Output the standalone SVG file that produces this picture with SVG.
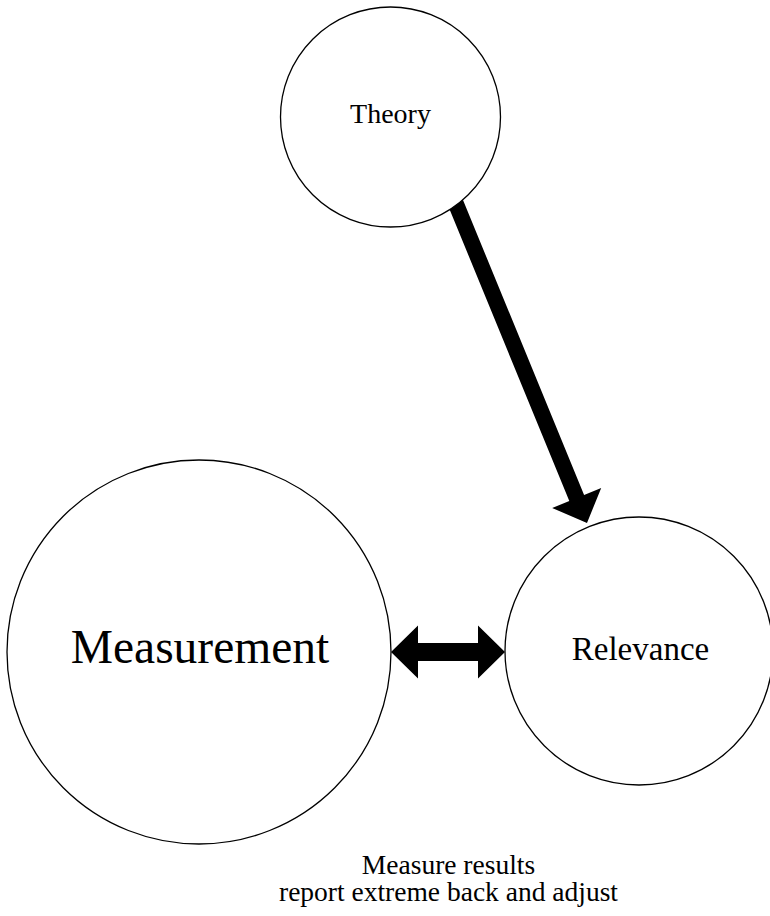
<svg xmlns="http://www.w3.org/2000/svg" width="770" height="916" viewBox="0 0 770 916">
<style>
.node{fill:#fff;stroke:#000;stroke-width:1.3}
.lbl{font-family:"Liberation Serif","Times New Roman",serif;fill:#000;text-anchor:middle}
.arrow{fill:#000;stroke:none}
</style>
<rect width="770" height="916" fill="#fff"/>
<g id="connectors">
<polygon class="arrow" points="447.4,162 432.6,168 569.3,501 552.2,508.1 587,523 601.2,487.9 584.1,495"/>
<polygon class="arrow" points="391,652 418,625.5 418,643 478,643 478,625.5 505,652 478,678.5 478,661 418,661 418,678.5"/>
</g>
<g id="theory">
<circle class="node" cx="390.5" cy="117" r="110"/>
<text class="lbl" x="390.5" y="123" font-size="28">Theory</text>
</g>
<g id="measurement">
<circle class="node" cx="199" cy="652" r="192"/>
<text class="lbl" x="200" y="663" font-size="47.5">Measurement</text>
</g>
<g id="relevance">
<circle class="node" cx="639" cy="651" r="134"/>
<text class="lbl" x="640.5" y="660" font-size="33">Relevance</text>
</g>
<g id="note">
<text class="lbl" x="448.5" y="874" font-size="27.5">Measure results</text>
<text class="lbl" x="448.5" y="901" font-size="27.5">report extreme back and adjust</text>
</g>
</svg>
